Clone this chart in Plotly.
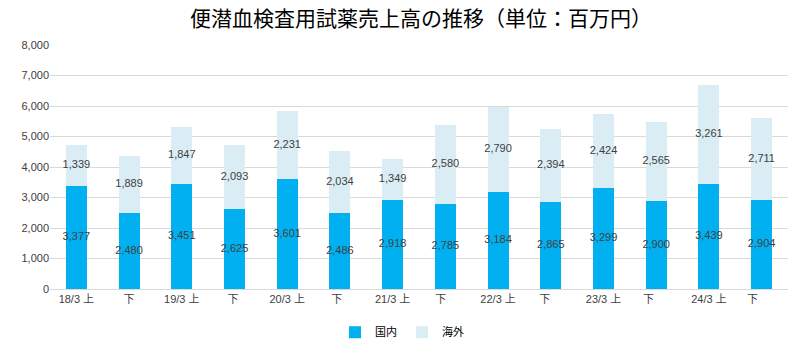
import plotly.graph_objects as go

categories = ["18/3 上", "下", "19/3 上", "下 ", "20/3 上", "下  ", "21/3 上", "下   ",
              "22/3 上", "下    ", "23/3 上", "下     ", "24/3 上", "下      "]
domestic = [3377, 2480, 3451, 2625, 3601, 2486, 2918, 2785, 3184, 2865, 3299, 2900, 3439, 2904]
overseas = [1339, 1889, 1847, 2093, 2231, 2034, 1349, 2580, 2790, 2394, 2424, 2565, 3261, 2711]
y_ticks = [0, 1000, 2000, 3000, 4000, 5000, 6000, 7000, 8000]

blue = "#00b0f0"
light = "#daedf4"
label_color = "#404040"
font_fam = "Liberation Sans, Noto Sans CJK JP, sans-serif"

fig = go.Figure()
fig.add_trace(go.Bar(x=categories, y=domestic, name="国内", marker_color=blue,
                     marker_line_width=0, hoverinfo="skip"))
fig.add_trace(go.Bar(x=categories, y=overseas, name="海外", marker_color=light,
                     marker_line_width=0, hoverinfo="skip"))

fig.add_trace(go.Scatter(x=categories, y=[d / 2 for d in domestic],
                         text=[f"{v:,}" for v in domestic], mode="text",
                         textfont=dict(size=11, color=label_color, family=font_fam),
                         showlegend=False, hoverinfo="skip", cliponaxis=False))
fig.add_trace(go.Scatter(x=categories, y=[d + o / 2 for d, o in zip(domestic, overseas)],
                         text=[f"{v:,}" for v in overseas], mode="text",
                         textfont=dict(size=11, color=label_color, family=font_fam),
                         showlegend=False, hoverinfo="skip", cliponaxis=False))

fig.update_layout(
    width=811, height=346,
    barmode="stack", bargap=0.6,
    paper_bgcolor="white", plot_bgcolor="white",
    margin=dict(l=50, r=23, t=45, b=57, autoexpand=False),
    font=dict(family=font_fam, size=11, color="#595959"),
    title=dict(text="便潜血検査用試薬売上高の推移（単位：百万円）", x=0.519, xanchor="center",
               y=0.945, yanchor="middle",
               font=dict(family="Noto Sans CJK JP, sans-serif", size=21, color="#000000")),
    legend=dict(orientation="h", x=0.477, xanchor="center", y=-0.177, yanchor="middle",
                font=dict(size=11, color="#000000", family="Noto Sans CJK JP, sans-serif"),
                itemwidth=30, traceorder="normal", tracegroupgap=0),
    xaxis=dict(range=[-0.5, len(categories) - 0.5], showgrid=False, showline=True,
               linecolor="#d9d9d9", linewidth=1,
               ticks="", tickfont=dict(size=11, color="#404040")),
    yaxis=dict(range=[0, 8000], tickvals=y_ticks, tickformat=",", showgrid=True,
               gridcolor="#d9d9d9", gridwidth=1, zeroline=False, showline=False,
               ticks="", tickfont=dict(size=11, color="#404040")),
)

fig.write_html("out.html")
